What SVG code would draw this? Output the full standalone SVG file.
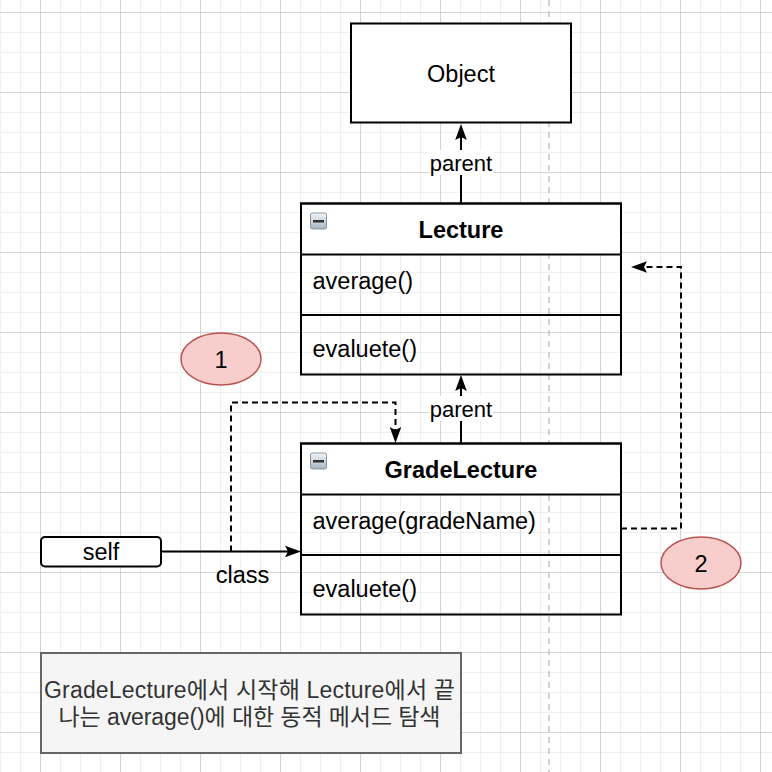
<svg xmlns="http://www.w3.org/2000/svg" width="772" height="772" viewBox="0 0 772 772">
<style>
text{font-family:"Liberation Sans",Arial,"Noto Sans CJK KR",sans-serif;fill:#000}
.t{font-size:23.5px}
.b{font-size:23.5px;font-weight:bold}
.lbl{font-size:22px}
.box{fill:#fff;stroke:#000;stroke-width:2}
.body{fill:none;stroke:#000;stroke-width:2}
.conn{fill:none;stroke:#000;stroke-width:2}
.dash{stroke-dasharray:6 4}
.circ{fill:#f8cecc;stroke:#b85450;stroke-width:1.5}
.note{fill:#f5f5f5;stroke:#666;stroke-width:2}
.nt{font-size:23px;fill:#333;font-family:"Liberation Sans",Arial,"Noto Sans CJK KR",sans-serif}
</style>
<defs>
<pattern id="grid" patternUnits="userSpaceOnUse" x="40" y="12" width="80" height="80">
<path d="M20.5,0V80M40.5,0V80M60.5,0V80M0,20.5H80M0,40.5H80M0,60.5H80" stroke="#efefef" stroke-width="1" fill="none"/>
<path d="M0.5,0V80M0,0.5H80" stroke="#d3d3d3" stroke-width="1" fill="none"/>
</pattern>
<linearGradient id="ig" x1="0" y1="0" x2="0" y2="1">
<stop offset="0" stop-color="#f4f6f8"/>
<stop offset="1" stop-color="#a9b4bf"/>
</linearGradient>
<marker id="arr" markerUnits="userSpaceOnUse" markerWidth="20" markerHeight="14" viewBox="0 -7 20 14" refX="3" refY="0" orient="auto">
<path d="M16,0L0,-5.8L3,0L0,5.8Z" fill="#000"/>
</marker>
<g id="icon">
<rect x="0.5" y="0.5" width="16" height="16" rx="2" fill="url(#ig)" stroke="#8796a5" stroke-width="1"/>
<rect x="3" y="7.5" width="11" height="2.5" fill="#333"/>
</g>
</defs>
<rect width="772" height="772" fill="#fff"/>
<rect width="772" height="772" fill="url(#grid)"/>
<line x1="549" y1="0" x2="549" y2="772" stroke="#c4c4c4" stroke-width="1.5" stroke-dasharray="6 5"/>

<g id="connectors">
<path class="conn" d="M461,203V137" marker-end="url(#arr)"/>
<rect x="429" y="150" width="64" height="25" fill="#fff"/>
<text class="lbl" x="461" y="170.5" text-anchor="middle">parent</text>
<path class="conn" d="M461,443V388" marker-end="url(#arr)"/>
<rect x="429" y="396" width="64" height="25" fill="#fff"/>
<text class="lbl" x="461" y="416.5" text-anchor="middle">parent</text>
<path class="conn" d="M161,551.5H288" marker-end="url(#arr)"/>
<text class="t" x="242.5" y="583" text-anchor="middle">class</text>
<path class="conn dash" d="M231,551.5V402.5H395.5V430" marker-end="url(#arr)"/>
<path class="conn dash" d="M621,528.5H681V267H644" marker-end="url(#arr)"/>
</g>

<g id="object">
<rect class="box" x="351" y="23.5" width="220" height="99"/>
<text class="t" x="461" y="81.5" text-anchor="middle">Object</text>
</g>

<g id="lecture">
<rect class="box" x="301" y="203.5" width="320" height="51"/>
<rect class="body" x="301" y="203.5" width="320" height="171"/>
<line x1="301" y1="315" x2="621" y2="315" stroke="#000" stroke-width="2"/>
<use href="#icon" x="310" y="212.5"/>
<text class="b" x="461" y="237.5" text-anchor="middle">Lecture</text>
<text class="t" x="312.5" y="289">average()</text>
<text class="t" x="312.5" y="357">evaluete()</text>
</g>

<g id="gradelecture">
<rect class="box" x="301" y="443.5" width="320" height="51"/>
<rect class="body" x="301" y="443.5" width="320" height="171"/>
<line x1="301" y1="555" x2="621" y2="555" stroke="#000" stroke-width="2"/>
<use href="#icon" x="310" y="452.5"/>
<text class="b" x="461" y="477.5" text-anchor="middle">GradeLecture</text>
<text class="t" x="312.5" y="529">average(gradeName)</text>
<text class="t" x="312.5" y="597">evaluete()</text>
</g>

<g id="self">
<rect x="41" y="537" width="120" height="29.5" rx="4" fill="#fff" stroke="#000" stroke-width="2"/>
<text class="t" x="101" y="560" text-anchor="middle">self</text>
</g>

<g id="step1">
<ellipse class="circ" cx="221" cy="359" rx="40" ry="26"/>
<text class="t" x="221" y="367.5" text-anchor="middle">1</text>
</g>

<g id="step2">
<ellipse class="circ" cx="701" cy="563" rx="40" ry="26"/>
<text class="t" x="701" y="571.5" text-anchor="middle">2</text>
</g>

<g id="note">
<rect class="note" x="41" y="653" width="420" height="100"/>
<text class="nt" x="249.5" y="698" text-anchor="middle" textLength="411">GradeLecture에서 시작해 Lecture에서 끝</text>
<text class="nt" x="249.5" y="725" text-anchor="middle" textLength="382">나는 average()에 대한 동적 메서드 탐색</text>
</g>
</svg>
